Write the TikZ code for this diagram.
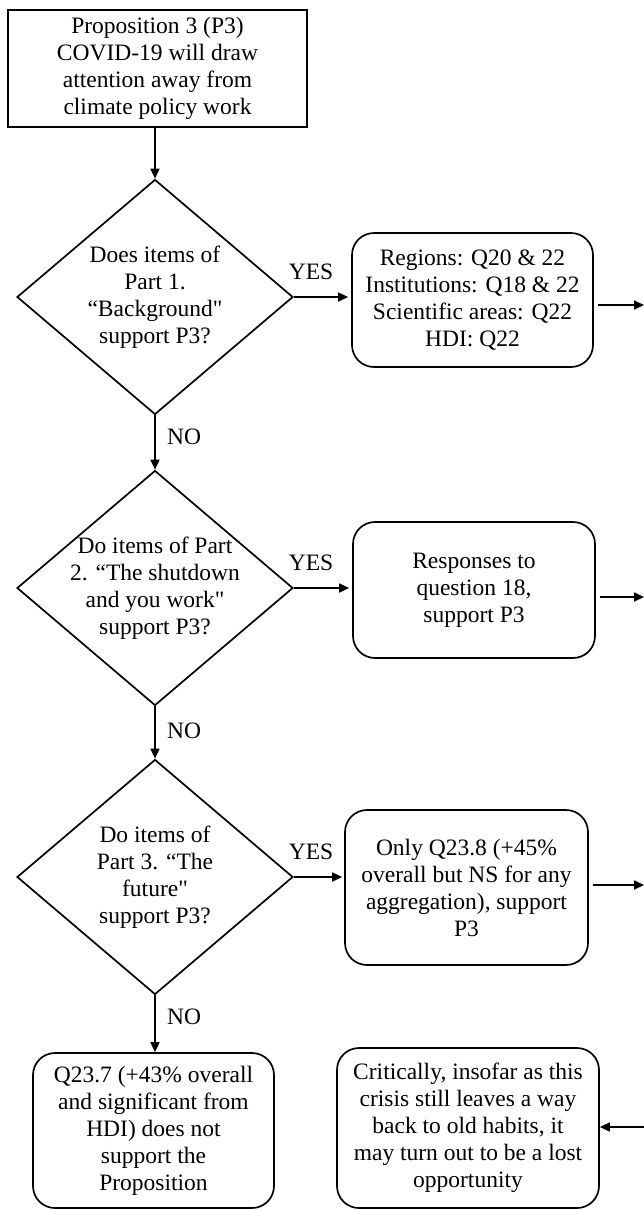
\documentclass[tikz,border=0pt]{standalone}
\usepackage{fontspec}
\setmainfont{Liberation Serif}
\newfontfamily\rawserif{Liberation Serif}
\newcommand{\sq}{{\rawserif"}}
\usetikzlibrary{shapes.geometric,arrows.meta}
\begin{document}
\begin{tikzpicture}[x=1pt,y=-1pt,
  every node/.style={font=\fontsize{23.5}{27}\selectfont},
  base/.style={draw=black,line width=1.7pt,align=center,inner sep=0pt},
  sqbox/.style={base,rectangle},
  rbox/.style={base,rectangle,rounded corners=22pt},
  decision/.style={base,diamond,aspect=1.17,inner sep=-6pt,minimum width=276pt,minimum height=235pt},
  arr/.style={line width=1.7pt,-{Triangle[length=10pt,width=9pt]}},
  lbl/.style={inner sep=0pt}
]
\useasboundingbox (0,0) rectangle (644,1211);

\node[sqbox,minimum width=299pt,minimum height=117pt] (top) at (157.5,68.5)
  {Proposition 3 (P3)\\COVID-19 will draw\\attention away from\\climate policy work};

\node[decision] (d1) at (155,297) {Does items of\\Part 1.\\“Background\sq\\support P3?};
\node[decision] (d2) at (155,588) {Do items of Part\\2. “The shutdown\\and you work\sq\\support P3?};
\node[decision] (d3) at (155,877) {Do items of\\Part 3. “The\\future\sq\\support P3?};

\node[rbox,minimum width=241pt,minimum height=134pt] (b1) at (472.5,300)
  {Regions: Q20 \& 22\\Institutions: Q18 \& 22\\Scientific areas: Q22\\HDI: Q22};
\node[rbox,minimum width=242pt,minimum height=136pt] (b2) at (474,590)
  {Responses to\\question 18,\\support P3};
\node[rbox,minimum width=243pt,minimum height=155pt] (b3) at (466.5,887.5)
  {Only Q23.8 (+45\%\\overall but NS for any\\aggregation), support\\P3};
\node[rbox,minimum width=241pt,minimum height=155pt] (b4) at (153.5,1130.5)
  {Q23.7 (+43\% overall\\and significant from\\HDI) does not\\support the\\Proposition};
\node[rbox,minimum width=262pt,minimum height=160pt] (b5) at (468,1128)
  {Critically, insofar as this\\crisis still leaves a way\\back to old habits, it\\may turn out to be a lost\\opportunity};

\coordinate (o1) at (644,305);
\coordinate (o2) at (644,597);
\coordinate (o3) at (644,885);
\coordinate (i5) at (644,1127);

\draw[arr] (top.south -| d1.north) -- (d1.north);
\draw[arr] (d1.south) -- (d2.north);
\draw[arr] (d2.south) -- (d3.north);
\draw[arr] (d3.south) -- (b4.north -| d3.south);

\draw[arr] (d1.east) -- ([xshift=-3pt]d1.east -| b1.west);
\draw[arr] (d2.east) -- ([xshift=-3pt]d2.east -| b2.west);
\draw[arr] (d3.east) -- ([xshift=-2pt]d3.east -| b3.west);

\draw[arr,shorten <=4pt] (b1.east |- o1) -- (o1);
\draw[arr,shorten <=4pt] (b2.east |- o2) -- (o2);
\draw[arr,shorten <=4pt] (b3.east |- o3) -- (o3);
\draw[arr] (i5) -- (i5 -| b5.east);

\node[lbl] (y1) at (311,272) {YES};
\node[lbl] (y2) at (311,563) {YES};
\node[lbl] (y3) at (311,852) {YES};
\node[lbl,anchor=west] (n1) at (167,437) {NO};
\node[lbl,anchor=west] (n2) at (167,731) {NO};
\node[lbl,anchor=west] (n3) at (167,1017) {NO};
\end{tikzpicture}
\end{document}
